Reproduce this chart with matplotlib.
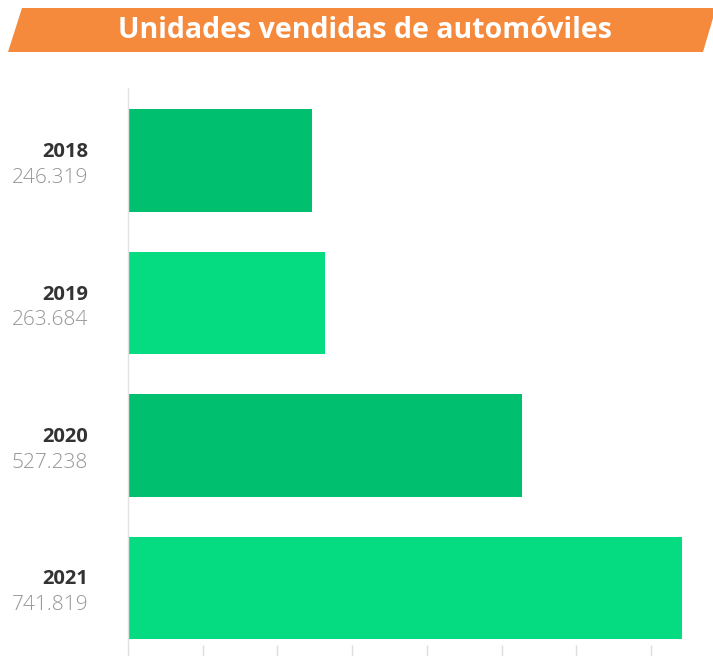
import matplotlib.pyplot as plt
from matplotlib.patches import Polygon

# data
years = ['2018', '2019', '2020', '2021']
units = [246319, 263684, 527238, 741819]
unit_labels = ['246.319', '263.684', '527.238', '741.819']
bar_colors = ['#00BF6F', '#05DC82', '#00BF6F', '#05DC82']
title = 'Unidades vendidas de automóviles'

W, H = 713, 656
fig = plt.figure(figsize=(W / 100, H / 100), dpi=100)
fig.patch.set_facecolor('white')

# axes placed in pixel terms (top-left origin)
left, right, top, bottom = 128, 713, 88, 645
ax = fig.add_axes([left / W, 1 - bottom / H, (right - left) / W, (bottom - top) / H])

ax.barh(range(len(years)), units, height=0.72, color=bar_colors)
ax.set_xlim(0, 783000)
ax.set_ylim(3.40, -0.51)

ax.set_xticks(range(0, 700001, 100000))
ax.set_xticklabels([])
ax.tick_params(axis='x', length=10, width=1, color='#dddddd', direction='out')
ax.set_yticks([])
for s in ['top', 'right', 'bottom']:
    ax.spines[s].set_visible(False)
ax.spines['left'].set_color('#e2e2e2')
ax.spines['left'].set_linewidth(1)

# year + value labels on the left
for i, (y, lab) in enumerate(zip(years, unit_labels)):
    ax.text(-0.068, i - 0.06, y, transform=ax.get_yaxis_transform(), ha='right', va='center',
            fontsize=14.5, fontweight='bold', color='#333333', family='Open Sans')
    ax.text(-0.068, i + 0.12, lab, transform=ax.get_yaxis_transform(), ha='right', va='center',
            fontsize=15, fontweight='light', color='#959595', family='Open Sans')

# orange title banner
pts = [(8, 52), (22, 8), (716, 8), (703, 52)]
banner = Polygon([(x / W, 1 - y / H) for x, y in pts], closed=True, transform=fig.transFigure,
                 facecolor='#F58A3D', edgecolor='none')
fig.patches.append(banner)
fig.text(365 / W, 1 - 31 / H, title, ha='center', va='center', color='white',
         fontsize=20.5, fontweight='bold', family='Open Sans')

fig.savefig('out.png', dpi=100)
